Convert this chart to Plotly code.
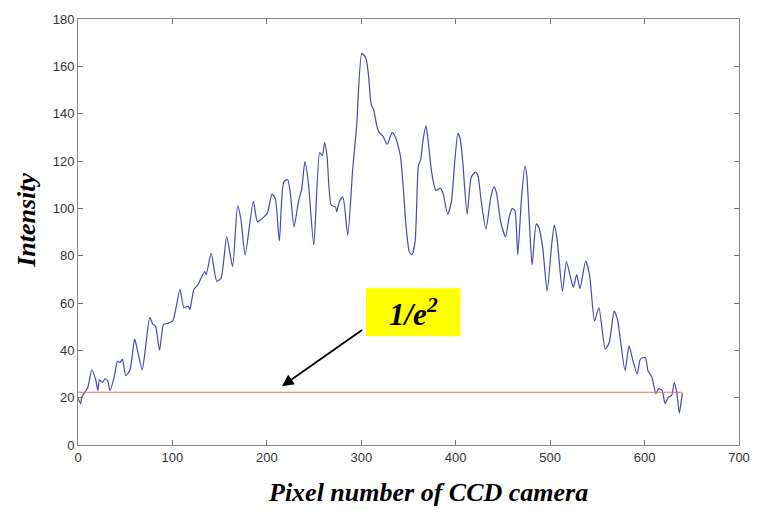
import plotly.graph_objects as go

# Intensity profile across the CCD line sensor
pixel = [0, 2.8, 4, 10.4, 14.6, 19, 21, 22.7, 26, 28.6, 31.4, 33.8, 38.3, 41.8, 44.6, 47,
         50.6, 55, 60, 62.7, 68, 71.5, 76, 79.4, 82, 86.4, 90.6, 94.8, 100.3, 108, 112.2,
         116.7, 118.5, 122.7, 127.2, 129.6, 134.2, 135.8, 141, 147, 151.5, 157.5, 163.7,
         169, 172.4, 177, 185.7, 190, 195, 200.3, 205.5, 209, 213.2, 217.8, 222, 224.7,
         228.8, 233.4, 237, 240.3, 243.9, 249.7, 256, 258.8, 261.2, 263.7, 268.2, 272.7,
         274, 276.9, 280.5, 285.7, 290.9, 295.1, 300.6, 304.9, 307.6, 310.5, 313, 316.5,
         319, 322.7, 327.5, 332.7, 336.2, 341.4, 344.8, 347.3, 350.8, 353.6, 357, 360.5,
         363, 365, 368.5, 371, 374.5, 379, 383.9, 386.6, 391.5, 395.4, 398.9, 402.3,
         404.8, 407.5, 412.1, 416.5, 421, 423.5, 426.7, 432, 437.2, 440.6, 443.2, 447.6,
         452.9, 456.3, 459.8, 462.6, 465.7, 469.6, 473.3, 475.4, 478, 480.9, 485.3, 488.4,
         492.2, 496.8, 501.6, 504.4, 507.5, 513, 517.2, 521.8, 524.6, 528.1, 531.6, 537.6,
         541.7, 547, 551.6, 558.4, 562.6, 567.8, 571.3, 579.3, 583.5, 587.7, 592.2, 595.6,
         600.8, 603.6, 607.8, 612, 614.8, 618.3, 621.7, 625.3, 628.7, 631.5, 634, 636.8,
         638.5, 640]
intensity = [19.8, 17.5, 20.2, 24.4, 31.7, 27.2, 23, 27.5, 26.5, 28, 27.2, 23, 28.6, 35.3,
             34.9, 36.3, 29.3, 31.7, 44.7, 40.5, 31.8, 41.2, 53.8, 51, 50.3, 40.1, 51, 51.3,
             52.4, 65.7, 58, 58.7, 57.3, 65.7, 67.8, 69.9, 73.3, 72, 81, 69.2, 70.5, 88, 75.4,
             101, 95.7, 80.3, 103, 94.3, 95.7, 97.8, 106, 104, 86.2, 111, 112.2, 106.9, 92.2,
             102.7, 108.3, 119.7, 111, 84.5, 123.6, 122.3, 127.8, 122.3, 101.3, 100.6, 98.5,
             103, 104.8, 88.7, 116.6, 134.8, 165.5, 163.4, 156.4, 143.9, 141.8, 134.8, 132,
             130.6, 127.1, 132, 130, 122.3, 106.9, 92.9, 81.7, 80.3, 86, 118, 120.8, 127.8,
             134.8, 127.8, 115.3, 107.6, 108.5, 106.2, 97.6, 102.7, 119.4, 131.7, 129.2,
             119.4, 97.6, 113.2, 115.3, 114, 104, 91.2, 104.8, 109.2, 106.5, 94.3, 88, 95.7,
             99.9, 99.2, 80.3, 104, 118, 113.2, 94.3, 76.1, 93.4, 91.5, 83.1, 65.1, 84.5,
             92.9, 86.6, 65, 77.5, 70.5, 66.6, 72, 66.1, 77.7, 72, 52.4, 58, 40.5, 43.3, 56.6,
             53.1, 31.4, 41.9, 35.6, 30, 36.3, 37, 31.4, 28.6, 21.7, 23.8, 23.3, 17.5, 20.2,
             21, 26.5, 22.3, 13.5, 17.5, 21.9]

# 1/e^2 threshold level
threshold_x = [0, 640]
threshold_y = [22.3, 22.3]

x_ticks = [0, 100, 200, 300, 400, 500, 600, 700]
y_ticks = [0, 20, 40, 60, 80, 100, 120, 140, 160, 180]

W, H = 762, 510
pl, pr, pt, pb = 78, 748, 15, 445  # plot-area edges in page pixels

fig = go.Figure()
fig.add_trace(go.Scatter(x=pixel, y=intensity, mode="lines",
                         line=dict(color="#4848b8", width=1.2, shape="spline", smoothing=0.6),
                         showlegend=False, hoverinfo="skip"))
fig.add_trace(go.Scatter(x=threshold_x, y=threshold_y, mode="lines",
                         line=dict(color="#e8704c", width=1.1),
                         showlegend=False, hoverinfo="skip"))

serif = "Liberation Serif, Times New Roman, serif"
sans = "Liberation Sans, Arial, Helvetica, sans-serif"

# Label box with arrow pointing at the threshold line
fig.add_shape(type="rect", xref="x", yref="y", x0=305, x1=405, y0=46, y1=66.2,
              fillcolor="#ffff00", line=dict(width=0), layer="above")
fig.add_annotation(x=355, y=56.0, xref="x", yref="y", text="<b><i>1/e<sup>2</sup></i></b>",
                   showarrow=False, font=dict(family=serif, size=31, color="black"))
fig.add_annotation(x=216, y=24.8, xref="x", yref="y", ax=304, ay=49.5, axref="x", ayref="y",
                   text=" ", showarrow=True, arrowhead=2, arrowsize=1.3, arrowwidth=1.8,
                   arrowcolor="black")

# Axis titles, positioned from page pixels into the plot-area (paper) frame
fig.add_annotation(x=(433 - pl) / (pr - pl), y=(pb - 493) / (pb - pt), xref="paper", yref="paper",
                   text="<b><i>Pixel number of CCD camera</i></b>", showarrow=False,
                   xanchor="center", yanchor="middle",
                   font=dict(family=serif, size=26, color="black"))
fig.add_annotation(x=(25 - pl) / (pr - pl), y=(pb - 218) / (pb - pt), xref="paper", yref="paper",
                   text="<b><i>Intensity</i></b>", textangle=-90, showarrow=False,
                   xanchor="center", yanchor="middle",
                   font=dict(family=serif, size=26, color="black"))

fig.update_layout(
    width=W, height=H,
    margin=dict(l=pl, r=W - pr, t=pt, b=H - pb),
    paper_bgcolor="white", plot_bgcolor="white",
    xaxis=dict(range=[0, 700], tickvals=x_ticks, ticks="inside", ticklen=5, tickcolor="#777",
               showline=True, linecolor="#888", linewidth=1, mirror="ticks", showgrid=False,
               zeroline=False, tickfont=dict(family=sans, size=13, color="#333")),
    yaxis=dict(range=[0, 180], tickvals=y_ticks, ticks="inside", ticklen=5, tickcolor="#777",
               showline=True, linecolor="#888", linewidth=1, mirror="ticks", showgrid=False,
               zeroline=False, tickfont=dict(family=sans, size=13, color="#333")),
)

fig.write_html("out.html")
